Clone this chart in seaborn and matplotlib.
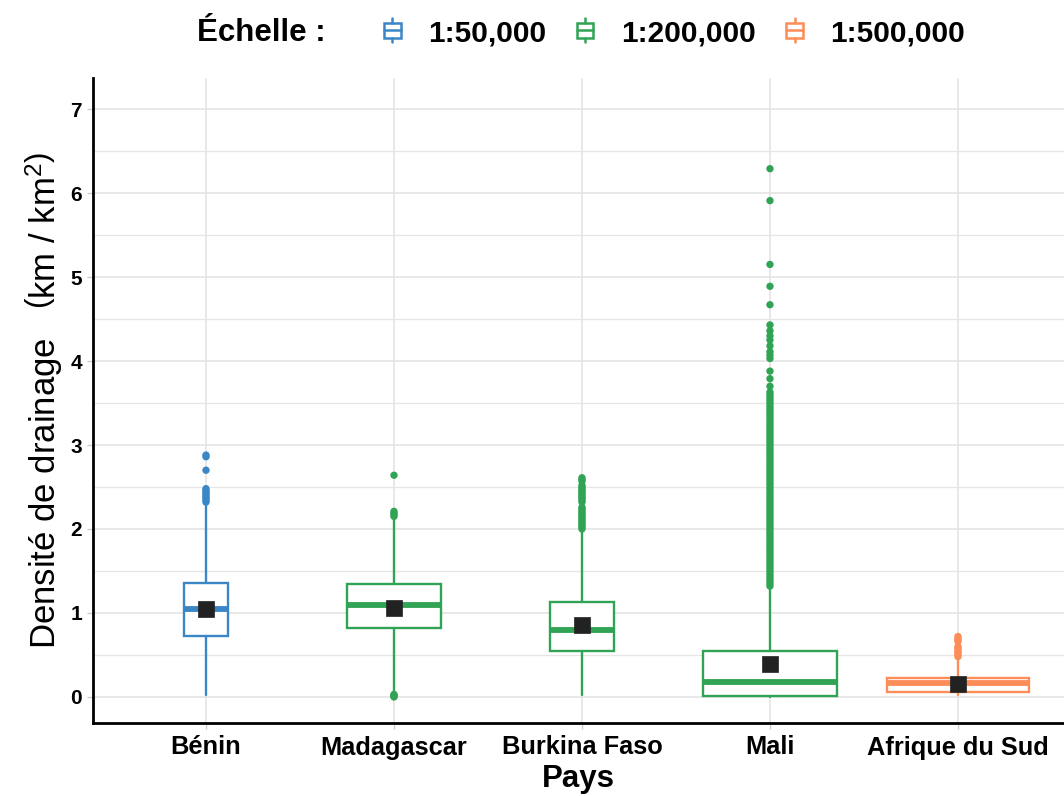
import numpy as np
import pandas as pd
import matplotlib
matplotlib.use("Agg")
import matplotlib.pyplot as plt
import seaborn as sns
from matplotlib.legend_handler import HandlerBase
from matplotlib.patches import Rectangle, Patch
from matplotlib.lines import Line2D
from matplotlib.ticker import MultipleLocator

# ---------------- data ----------------
categories = ["Bénin", "Madagascar", "Burkina Faso", "Mali", "Afrique du Sud"]
scales = ["1:50,000", "1:200,000", "1:200,000", "1:200,000", "1:500,000"]
scale_levels = ["1:50,000", "1:200,000", "1:500,000"]
scale_colors = ["#3A86C6", "#31A354", "#FC8D59"]

q1 = [0.73, 0.82, 0.55, 0.01, 0.06]
median = [1.05, 1.09, 0.80, 0.175, 0.165]
q3 = [1.36, 1.34, 1.13, 0.55, 0.22]
whislo = [0.02, 0.05, 0.02, 0.00, 0.02]
whishi = [2.31, 2.13, 1.99, 1.31, 0.46]
means = [1.05, 1.06, 0.86, 0.39, 0.16]
box_widths = [0.23, 0.50, 0.34, 0.71, 0.76]

out_benin = [2.32, 2.34, 2.36, 2.38, 2.40, 2.42, 2.44, 2.46, 2.48, 2.70, 2.86, 2.88]
out_madagascar = [0.00, 0.01, 0.02, 0.03, 2.15, 2.17, 2.19, 2.21, 2.64]
out_burkina = [2.00, 2.02, 2.04, 2.06, 2.08, 2.10, 2.12, 2.14, 2.16, 2.18, 2.20,
               2.22, 2.24, 2.26, 2.32, 2.34, 2.36, 2.38, 2.40, 2.42, 2.44, 2.46,
               2.48, 2.50, 2.52, 2.57, 2.59, 2.61]
out_mali = [1.32, 1.35, 1.38, 1.41, 1.44, 1.47, 1.50, 1.53, 1.56, 1.59, 1.62,
            1.65, 1.68, 1.71, 1.74, 1.77, 1.80, 1.83, 1.86, 1.89, 1.92, 1.95,
            1.98, 2.01, 2.04, 2.07, 2.10, 2.13, 2.16, 2.19, 2.22, 2.25, 2.28,
            2.31, 2.34, 2.37, 2.40, 2.43, 2.46, 2.49, 2.52, 2.55, 2.58, 2.61,
            2.64, 2.67, 2.70, 2.73, 2.76, 2.79, 2.82, 2.85, 2.88, 2.91, 2.94,
            2.97, 3.00, 3.03, 3.06, 3.09, 3.12, 3.15, 3.18, 3.21, 3.24, 3.27,
            3.30, 3.33, 3.36, 3.39, 3.42, 3.45, 3.48, 3.51, 3.54, 3.57, 3.60,
            3.63, 3.70, 3.79, 3.88, 4.03, 4.07, 4.11, 4.18, 4.25, 4.30, 4.36,
            4.43, 4.67, 4.89, 5.15, 5.91, 6.29]
out_afrique = [0.48, 0.50, 0.52, 0.54, 0.56, 0.58, 0.60, 0.66, 0.68, 0.70, 0.72]
outliers = [out_benin, out_madagascar, out_burkina, out_mali, out_afrique]

y_ticks = [0, 1, 2, 3, 4, 5, 6, 7]

# ---------------- style ----------------
sns.set_theme(style="whitegrid")
plt.rcParams["font.family"] = ["Liberation Sans", "DejaVu Sans"]
plt.rcParams["mathtext.fontset"] = "custom"
plt.rcParams["mathtext.rm"] = "Liberation Sans"
plt.rcParams["mathtext.it"] = "Liberation Sans:italic"
plt.rcParams["text.color"] = "black"
plt.rcParams["axes.labelcolor"] = "black"

color_of = dict(zip(scale_levels, scale_colors))
box_colors = [color_of[s] for s in scales]

fig = plt.figure(figsize=(10.64, 7.96), dpi=100)
ax = fig.add_axes([93 / 1064, 73 / 796, 971 / 1064, 645 / 796])

positions = list(range(len(categories)))
stats = []
for i, name in enumerate(categories):
    stats.append(dict(label=name, q1=q1[i], med=median[i], q3=q3[i],
                      whislo=whislo[i], whishi=whishi[i], mean=means[i]))

for i in positions:
    c = box_colors[i]
    ax.bxp([stats[i]], positions=[i], widths=[box_widths[i]], showcaps=False,
           showfliers=False, showmeans=False, patch_artist=True,
           boxprops=dict(facecolor="white", edgecolor=c, linewidth=1.7),
           whiskerprops=dict(color=c, linewidth=1.7),
           medianprops=dict(color=c, linewidth=4.2, solid_capstyle="butt"),
           manage_ticks=False, zorder=3)

# outliers via seaborn
rows = []
for i, vals in enumerate(outliers):
    for v in vals:
        rows.append((i, v, scales[i]))
out_df = pd.DataFrame(rows, columns=["pos", "value", "scale"])
sns.scatterplot(data=out_df, x="pos", y="value", hue="scale",
                hue_order=scale_levels, palette=scale_colors, s=28,
                edgecolor="none", legend=False, ax=ax, zorder=4)

# means
mean_df = pd.DataFrame({"pos": positions, "mean": means})
sns.scatterplot(data=mean_df, x="pos", y="mean", marker="s", s=120,
                color="#222222", edgecolor="#222222", linewidth=0.5,
                legend=False, ax=ax, zorder=5)

# axes
ax.set_xlim(-0.601, 4.564)
ax.set_ylim(-0.31, 7.37)
ax.set_xticks(positions)
ax.set_xticklabels(categories, fontsize=18.3, fontweight="bold", color="black")
ax.set_yticks(y_ticks)
ax.set_yticklabels([str(t) for t in y_ticks], fontsize=15, fontweight="bold",
                   color="black")
ax.yaxis.set_minor_locator(MultipleLocator(0.5))
ax.grid(True, which="major", color="#E2E2E2", linewidth=1.1)
ax.grid(True, which="minor", axis="y", color="#E6E6E6", linewidth=0.9)
ax.tick_params(axis="x", which="major", length=4, width=1.0,
               color="#CCCCCC", pad=5, bottom=True)
ax.tick_params(axis="y", which="major", length=4, width=1.0,
               color="#CCCCCC", pad=4, left=True)
ax.tick_params(axis="y", which="minor", length=0)
for side in ["top", "right"]:
    ax.spines[side].set_visible(False)
for side in ["left", "bottom"]:
    ax.spines[side].set_visible(True)
    ax.spines[side].set_color("black")
    ax.spines[side].set_linewidth(2)
ax.set_facecolor("white")

ax.set_xlabel("Pays", fontsize=22.5, fontweight="bold", labelpad=3)
ax.set_ylabel(r"Densité de drainage   $\left(\mathrm{km}\ /\ \mathrm{km}^{2}\right)$",
              fontsize=25, labelpad=4)


# legend with boxplot glyphs
class BoxHandler(HandlerBase):
    def create_artists(self, legend, orig_handle, xdescent, ydescent, width,
                       height, fontsize, trans):
        c = orig_handle.get_edgecolor()
        cx = width / 2 - xdescent
        y0 = -ydescent - 0.05 * height
        y1 = height - ydescent + 0.1 * height
        h = y1 - y0
        bw = width * 0.8
        rect = Rectangle((cx - bw / 2, y0 + 0.2 * h), bw, 0.6 * h,
                         fill=False, edgecolor=c, linewidth=1.8, transform=trans)
        mid = Line2D([cx - bw / 2, cx + bw / 2], [y0 + 0.5 * h] * 2, color=c,
                     linewidth=1.8, transform=trans)
        w1 = Line2D([cx, cx], [y0, y0 + 0.2 * h], color=c, linewidth=1.8,
                    transform=trans)
        w2 = Line2D([cx, cx], [y0 + 0.8 * h, y1], color=c, linewidth=1.8,
                    transform=trans)
        return [rect, mid, w1, w2]


handles = [Patch(edgecolor=c, facecolor="none") for c in scale_colors]
leg = fig.legend(handles, scale_levels, handler_map={Patch: BoxHandler()},
                 loc="center", bbox_to_anchor=(0.633, 0.958), ncol=3,
                 frameon=False, handlelength=0.7, handletextpad=0.85,
                 columnspacing=0.95,
                 prop={"family": "Liberation Sans", "weight": "bold", "size": 21.5})
fig.text(0.185, 0.958, "Échelle :", fontsize=22.5, fontweight="bold",
         ha="left", va="center")

fig.savefig("out.png", dpi=100, facecolor="white")
